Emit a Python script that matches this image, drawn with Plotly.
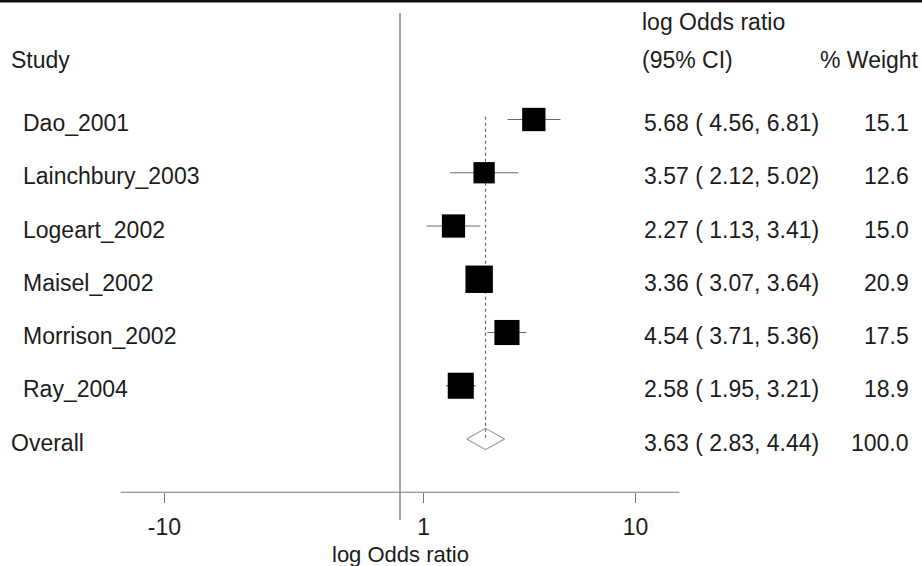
import numpy as np
import plotly.graph_objects as go

# ---- data -------------------------------------------------------------
studies = ["Dao_2001", "Lainchbury_2003", "Logeart_2002", "Maisel_2002",
           "Morrison_2002", "Ray_2004"]
log_or = [5.68, 3.57, 2.27, 3.36, 4.54, 2.58]
ci_low = [4.56, 2.12, 1.13, 3.07, 3.71, 1.95]
ci_high = [6.81, 5.02, 3.41, 3.64, 5.36, 3.21]
weights = [15.1, 12.6, 15.0, 20.9, 17.5, 18.9]

overall_label = "Overall"
overall_est = 3.63
overall_low = 2.83
overall_high = 4.44
overall_weight = 100.0

tick_vals = [-10, 1, 10]
tick_text = ["-10", "1", "10"]
axis_extent = 11.86

# ---- layout helpers ---------------------------------------------------
W, H = 922, 566
FONT = "Liberation Sans, Arial, Helvetica, sans-serif"
TXT = "#1c1c1c"
FS = 23

n = len(studies)
rows = list(range(n))
overall_row = n
axis_row = n + 1

px_per_unit = 23.56
x_zero_px = 400
x_range = [-x_zero_px / px_per_unit, (W - x_zero_px) / px_per_unit]
row0_px, row_step = 119.5, 53.25
y_range = [(H - row0_px) / row_step, -row0_px / row_step]


def px_to_row(py):
    return (py - row0_px) / row_step


fig = go.Figure()

# confidence interval whiskers
ci_x, ci_y = [], []
for r, lo, hi in zip(rows, ci_low, ci_high):
    ci_x += [lo, hi, None]
    ci_y += [r, r, None]
fig.add_trace(go.Scatter(x=ci_x, y=ci_y, mode="lines",
                         line=dict(color="#6a6a6a", width=1.2),
                         hoverinfo="skip"))

# vertical null line at 0
fig.add_trace(go.Scatter(x=[0, 0], y=[px_to_row(13), px_to_row(520)],
                         mode="lines", line=dict(color="#8a8a8a", width=1.6),
                         hoverinfo="skip"))

# dotted line at the pooled estimate
fig.add_trace(go.Scatter(x=[overall_est, overall_est],
                         y=[-0.05, overall_row],
                         mode="lines",
                         line=dict(color="#666666", width=1.2, dash="dot"),
                         hoverinfo="skip"))

# study squares, area proportional to weight
fig.add_trace(go.Scatter(x=log_or, y=rows, mode="markers",
                         marker=dict(symbol="square", color="black",
                                     opacity=1,
                                     size=[6.0 * np.sqrt(w) for w in weights],
                                     line=dict(width=0)),
                         hoverinfo="skip"))

# pooled diamond
half_h = 0.2
fig.add_trace(go.Scatter(
    x=[overall_low, overall_est, overall_high, overall_est, overall_low],
    y=[overall_row, overall_row - half_h, overall_row,
       overall_row + half_h, overall_row],
    mode="lines", line=dict(color="#9a9a9a", width=1.2),
    hoverinfo="skip"))

# horizontal axis line
fig.add_trace(go.Scatter(x=[-axis_extent, axis_extent],
                         y=[axis_row, axis_row], mode="lines",
                         line=dict(color="#777777", width=1.2),
                         hoverinfo="skip"))

# ---- text columns -----------------------------------------------------
ann = []


def text(x, y, s, anchor="left", xref="paper", yref="y", size=FS):
    ann.append(dict(x=x, y=y, xref=xref, yref=yref, text=s,
                    showarrow=False, xanchor=anchor, yanchor="middle",
                    borderpad=0,
                    font=dict(family=FONT, size=size, color=TXT)))


dy = 0.07
text(10 / W, px_to_row(60), "Study")
text(641 / W, px_to_row(22), "log Odds ratio")
text(641 / W, px_to_row(60), "(95% CI)")
text(920 / W, px_to_row(60), "% Weight", anchor="right")

for r, s, e, lo, hi, w in zip(rows, studies, log_or, ci_low, ci_high, weights):
    text(22 / W, r + dy, s)
    text(643 / W, r + dy, f"{e:.2f} ({lo:5.2f},{hi:5.2f})")
    text(910 / W, r + dy, f"{w:.1f}", anchor="right")

text(10 / W, overall_row + dy, overall_label)
text(643 / W, overall_row + dy,
     f"{overall_est:.2f} ({overall_low:5.2f},{overall_high:5.2f})")
text(910 / W, overall_row + dy, f"{overall_weight:.1f}", anchor="right")

# axis title
text(0, px_to_row(554), "log Odds ratio", anchor="center", xref="x", size=22)

fig.update_layout(
    width=W, height=H,
    margin=dict(l=0, r=0, t=0, b=0),
    paper_bgcolor="white", plot_bgcolor="white",
    showlegend=False,
    annotations=ann,
    shapes=[dict(type="line", xref="paper", yref="paper",
                 x0=0, x1=1, y0=1 - 1.2 / H, y1=1 - 1.2 / H,
                 line=dict(color="#111111", width=2.4))],
    xaxis=dict(range=x_range, tickvals=tick_vals, ticktext=tick_text,
               ticks="outside", ticklen=10, tickwidth=1.2,
               tickcolor="#777777", showline=False, showgrid=False,
               zeroline=False, anchor="free",
               position=1 - 492.3 / H, ticklabelstandoff=4,
               tickfont=dict(family=FONT, size=FS, color=TXT)),
    yaxis=dict(range=y_range, visible=False, showgrid=False,
               zeroline=False),
)

fig.write_html("out.html")
